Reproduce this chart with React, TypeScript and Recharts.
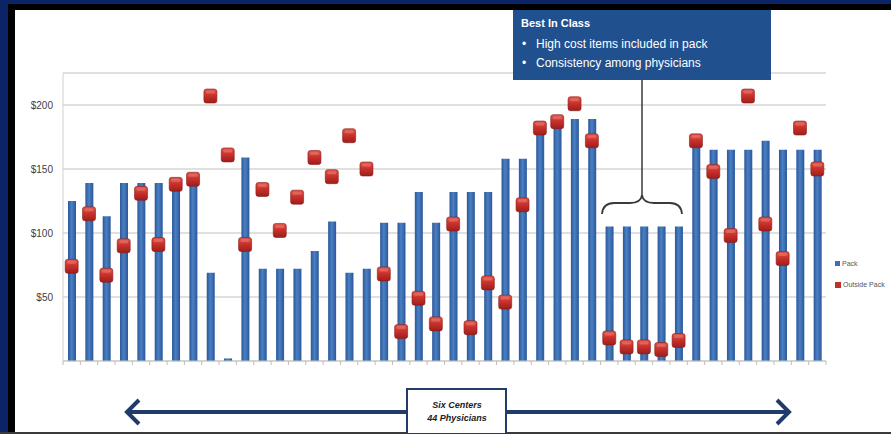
import React from 'react';
import { ComposedChart, Bar, Line, XAxis, YAxis, CartesianGrid, Legend } from 'recharts';

const physicians = [
  '1', '2', '3', '4', '5', '6', '7', '8', '9', '10', '11',
  '12', '13', '14', '15', '16', '17', '18', '19', '20', '21', '22',
  '23', '24', '25', '26', '27', '28', '29', '30', '31', '32', '33',
  '34', '35', '36', '37', '38', '39', '40', '41', '42', '43', '44',
];

const packCost = [
  125, 139, 113, 139, 139, 139, 140, 141, 69, 2, 159,
  72, 72, 72, 86, 109, 69, 72, 108, 108, 132, 108,
  132, 132, 132, 158, 158, 180, 185, 189, 189, 105, 105,
  105, 105, 105, 170, 165, 165, 165, 172, 165, 165, 165,
];

const outsidePackCost = [
  74, 115, 67, 90, 131, 91, 138, 142, 207, 161, 91,
  134, 102, 128, 159, 144, 176, 150, 68, 23, 49, 29,
  107, 26, 61, 46, 122, 182, 187, 201, 172, 18, 11,
  11, 9, 16, 172, 148, 98, 207, 107, 80, 182, 150,
];

const yTicks = [50, 100, 150, 200];

const data = physicians.map((name, i) => ({
  name,
  pack: packCost[i],
  outside: outsidePackCost[i],
}));

const W = 891;
const H = 434;
const PLOT_LEFT = 63;
const PLOT_RIGHT = 826;
const STEP = (PLOT_RIGHT - PLOT_LEFT) / physicians.length;
const FONT = "'Liberation Sans Narrow', 'Liberation Sans', Arial, sans-serif";

const RedMarker = (props: any) => {
  const { cx, cy } = props;
  if (cx == null || cy == null) return null;
  return (
    <g>
      <rect x={cx - 6.5} y={cy - 7} width={13} height={14} rx={2.5}
        fill="url(#markerGrad)" stroke="#8c1a17" strokeWidth={0.6} />
      <rect x={cx - 4.5} y={cy - 5.5} width={9} height={3} rx={1.5} fill="#f08a80" opacity={0.45} />
    </g>
  );
};

const YTick = (props: any) => {
  const { x, y, payload } = props;
  return (
    <text x={x} y={y} dy={3.5} textAnchor="end" fontSize={10} fill="#404040" fontFamily={FONT}>
      ${payload.value}
    </text>
  );
};

const XTick = (props: any) => {
  const { x, y, index } = props;
  return (
    <g>
      <line x1={x - STEP / 2} x2={x - STEP / 2} y1={y} y2={y + 4} stroke="#bdbdbd" />
      {index === physicians.length - 1 && (
        <line x1={x + STEP / 2} x2={x + STEP / 2} y1={y} y2={y + 4} stroke="#bdbdbd" />
      )}
    </g>
  );
};

const LegendBox = () => (
  <div style={{ fontFamily: FONT, fontSize: 7, color: '#555', lineHeight: '21px' }}>
    <div style={{ display: 'flex', alignItems: 'center' }}>
      <span style={{ width: 5, height: 5, background: '#3d6fb3', marginRight: 2, display: 'inline-block' }} />
      Pack
    </div>
    <div style={{ display: 'flex', alignItems: 'center' }}>
      <span style={{ width: 6, height: 6, background: '#c0312b', marginRight: 2, display: 'inline-block' }} />
      Outside Pack
    </div>
  </div>
);

export default function App() {
  return (
    <div style={{ position: 'absolute', left: 0, top: 0, width: W, height: H, background: '#fff', overflow: 'hidden' }}>
      <ComposedChart
        width={W}
        height={H}
        data={data}
        margin={{ top: 73, right: W - PLOT_RIGHT, bottom: 63, left: 13 }}
        barCategoryGap={0}
      >
        <defs>
          <linearGradient id="barGrad" x1="0" y1="0" x2="1" y2="0">
            <stop offset="0%" stopColor="#2b5798" />
            <stop offset="45%" stopColor="#4a80c4" />
            <stop offset="100%" stopColor="#2b5798" />
          </linearGradient>
          <linearGradient id="markerGrad" x1="0" y1="0" x2="0" y2="1">
            <stop offset="0%" stopColor="#e0554b" />
            <stop offset="50%" stopColor="#c7302a" />
            <stop offset="100%" stopColor="#9c1e1b" />
          </linearGradient>
        </defs>
        <CartesianGrid horizontal vertical={false} stroke="#d6d6d6" strokeWidth={1.5} />
        <XAxis
          dataKey="name"
          height={10}
          interval={0}
          tickLine={false}
          tickSize={0}
          tickMargin={0}
          tick={<XTick />}
          axisLine={{ stroke: '#c9c9c9' }}
        />
        <YAxis
          width={50}
          domain={[0, 225]}
          ticks={yTicks}
          tickLine={false}
          tickMargin={4}
          tick={<YTick />}
          axisLine={{ stroke: '#d0d0d0' }}
        />
        <Legend
          layout="vertical"
          align="center"
          verticalAlign="middle"
          content={<LegendBox />}
          wrapperStyle={{ left: 835, top: 253, width: 56 }}
        />
        <Bar dataKey="pack" name="Pack" barSize={8} fill="url(#barGrad)" isAnimationActive={false} />
        <Line
          dataKey="outside"
          name="Outside Pack"
          stroke="none"
          strokeWidth={0}
          dot={<RedMarker />}
          activeDot={false}
          isAnimationActive={false}
        />
      </ComposedChart>

      <svg width={W} height={H} style={{ position: 'absolute', left: 0, top: 0, pointerEvents: 'none' }}>
        {/* frame */}
        <rect x={0} y={0} width={W} height={4} fill="#0b2468" />
        <rect x={0} y={0} width={8} height={H} fill="#0b2468" />
        <rect x={8} y={4} width={W - 8} height={6} fill="#000" />
        <rect x={8} y={4} width={7} height={H - 4} fill="#000" />
        <rect x={0} y={432} width={W} height={2} fill="#3a3a3a" />

        {/* callout */}
        <rect x={513} y={10} width={258} height={70} fill="#21508f" />
        <g fontFamily={FONT} fill="#fff">
          <text x={521} y={27} fontSize={11} fontWeight="bold">Best In Class</text>
          <text x={522} y={48} fontSize={12}>•</text>
          <text x={536} y={48} fontSize={12}>High cost items included in pack</text>
          <text x={522} y={67} fontSize={12}>•</text>
          <text x={536} y={67} fontSize={12}>Consistency among physicians</text>
        </g>
        <line x1={642} x2={642} y1={80} y2={196} stroke="#3a3a3a" strokeWidth={1.5} />
        <path
          d="M 602 214 Q 603 203 614 203 L 630 203 Q 641 203 642 195 Q 643 203 654 203 L 670 203 Q 681 203 682 214"
          fill="none" stroke="#3a3a3a" strokeWidth={1.8}
        />

        {/* bottom arrow */}
        <line x1={128} x2={788} y1={412} y2={412} stroke="#213b6a" strokeWidth={4} />
        <polyline points="139,400 127,412 139,424" fill="none" stroke="#213b6a" strokeWidth={4} />
        <polyline points="777,400 789,412 777,424" fill="none" stroke="#213b6a" strokeWidth={4} />
        <rect x={407} y={389} width={99} height={45} fill="#fff" stroke="#213b6a" strokeWidth={2} />
        <g fontFamily={FONT} fill="#222" fontSize={9} fontStyle="italic" fontWeight="bold" textAnchor="middle">
          <text x={457} y={408}>Six Centers</text>
          <text x={457} y={421}>44 Physicians</text>
        </g>
      </svg>
    </div>
  );
}
